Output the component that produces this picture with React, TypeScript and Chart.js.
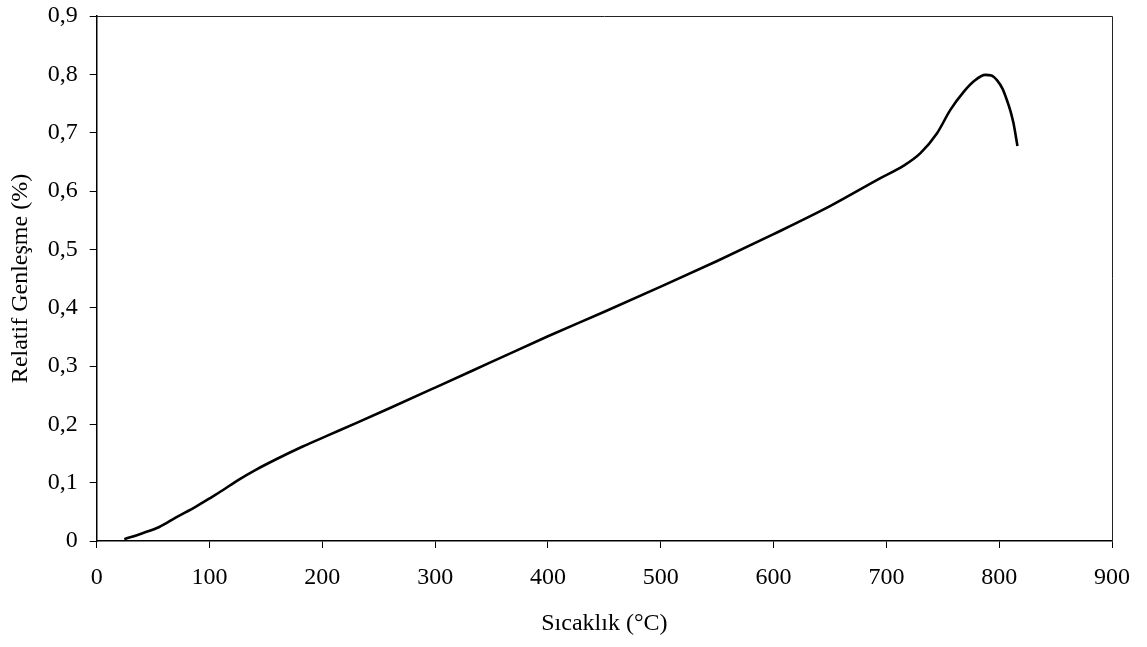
import React, { useEffect, useRef } from "react";
import { Chart, registerables } from "chart.js";

Chart.register(...registerables);

// Temperature (°C) readings and relative expansion (%)
const temperature = [
  24.5, 40, 55.5, 70, 88, 100, 111.7, 125, 141, 160, 182.6, 205, 229.9, 260, 300,
  350, 400, 450, 500, 550, 600, 650, 694.7, 715, 730.2, 744.9, 756.7, 768.5, 778,
  787.7, 793, 798, 803, 806.8, 810, 812.7, 816.2,
];
const expansion = [
  0.003, 0.013, 0.024, 0.04, 0.059, 0.073, 0.087, 0.104, 0.122, 0.141, 0.162, 0.181,
  0.202, 0.228, 0.263, 0.307, 0.351, 0.393, 0.436, 0.48, 0.526, 0.574, 0.622, 0.643,
  0.665, 0.699, 0.739, 0.77, 0.789, 0.799, 0.798, 0.79, 0.775, 0.756, 0.737, 0.716,
  0.677,
];

const xTicks = [0, 100, 200, 300, 400, 500, 600, 700, 800, 900];
const yTicks = [0, 0.1, 0.2, 0.3, 0.4, 0.5, 0.6, 0.7, 0.8, 0.9];

const xTitle = "Sıcaklık (°C)";
const yTitle = "Relatif Genleşme (%)";

const FONT = "'Liberation Serif', 'Times New Roman', serif";

// Closes the plot area with a top and right edge
const frame = {
  id: "frame",
  afterDraw(chart: any) {
    const { ctx, chartArea } = chart;
    ctx.save();
    ctx.strokeStyle = "#222";
    ctx.lineWidth = 1;
    ctx.beginPath();
    ctx.moveTo(chartArea.left, chartArea.top + 0.5);
    ctx.lineTo(chartArea.right + 0.5, chartArea.top + 0.5);
    ctx.lineTo(chartArea.right + 0.5, chartArea.bottom);
    ctx.stroke();
    ctx.restore();
  },
};

export default function App() {
  const ref = useRef<HTMLCanvasElement | null>(null);

  useEffect(() => {
    if (!ref.current) return;
    const points = temperature.map((t, i) => ({ x: t, y: expansion[i] }));
    const chart = new Chart(ref.current, {
      type: "line",
      data: {
        datasets: [
          {
            data: points,
            borderColor: "#000",
            borderWidth: 2.6,
            pointRadius: 0,
            cubicInterpolationMode: "monotone",
            fill: false,
          },
        ],
      },
      options: {
        animation: false,
        responsive: false,
        maintainAspectRatio: false,
        layout: { padding: { top: 16, right: 35, left: 0, bottom: 0 } },
        plugins: { legend: { display: false }, tooltip: { enabled: false } },
        scales: {
          x: {
            type: "linear",
            min: 0,
            max: 900,
            afterBuildTicks: (s: any) => {
              s.ticks = xTicks.map((v) => ({ value: v }));
            },
            afterFit: (s: any) => {
              s.height = 106;
            },
            grid: { drawOnChartArea: false, drawTicks: true, tickLength: 7, color: "#000" },
            border: { display: true, color: "#000", width: 1.5 },
            ticks: {
              color: "#000",
              padding: 15,
              font: { family: FONT, size: 24 },
              maxRotation: 0,
              callback: (v: any) => String(v),
            },
            title: {
              display: true,
              text: xTitle,
              color: "#000",
              font: { family: FONT, size: 24 },
              padding: { top: 0, bottom: 9 },
            },
          },
          y: {
            type: "linear",
            min: 0,
            max: 0.9,
            afterBuildTicks: (s: any) => {
              s.ticks = yTicks.map((v) => ({ value: v }));
            },
            afterFit: (s: any) => {
              s.width = 96.7;
              s.paddingTop = 0;
              s.paddingBottom = 0;
            },
            grid: { drawOnChartArea: false, drawTicks: true, tickLength: 7, color: "#000" },
            border: { display: true, color: "#000", width: 1.5 },
            ticks: {
              color: "#000",
              padding: 12,
              font: { family: FONT, size: 24 },
              callback: (v: any) => (v === 0 ? "0" : Number(v).toFixed(1).replace(".", ",")),
            },
            title: {
              display: true,
              text: yTitle,
              color: "#000",
              font: { family: FONT, size: 24 },
              padding: { top: 6, bottom: 0 },
            },
          },
        },
      },
      plugins: [frame],
    });
    return () => chart.destroy();
  }, []);

  return (
    <div style={{ position: "fixed", left: 0, top: 0, width: 1147, height: 647, background: "#fff" }}>
      <canvas ref={ref} width={1147} height={647} style={{ display: "block" }} />
    </div>
  );
}
